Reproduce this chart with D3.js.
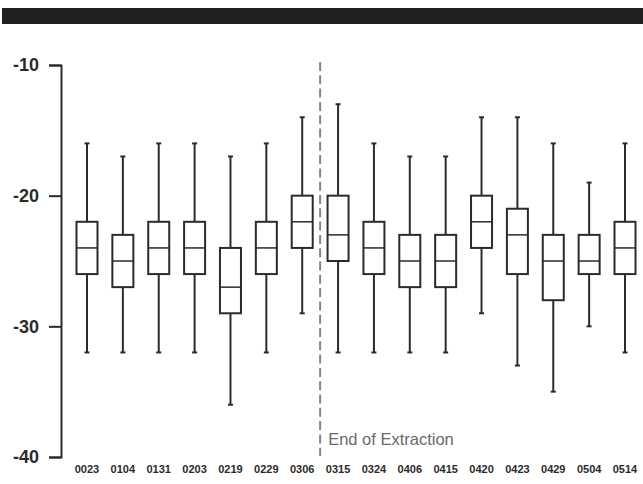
<!DOCTYPE html>
<html>
<head>
<meta charset="utf-8">
<script src="https://cdn.jsdelivr.net/npm/d3@7"></script>
<style>
  body { margin: 0; background: #fff; }
  svg { display: block; font-family: "Liberation Sans", Arial, sans-serif; }
</style>
</head>
<body>
<div id="chart"></div>
<script>
// sampling dates (labels on x axis)
var dates = ["0023", "0104", "0131", "0203", "0219", "0229", "0306", "0315",
             "0324", "0406", "0415", "0420", "0423", "0429", "0504", "0514"];

// box plot stats
var whiskerHigh = [-16, -17, -16, -16, -17, -16, -14, -13, -16, -17, -17, -14, -14, -16, -19, -16];
var q3          = [-22, -23, -22, -22, -24, -22, -20, -20, -22, -23, -23, -20, -21, -23, -23, -22];
var medians     = [-24, -25, -24, -24, -27, -24, -22, -23, -24, -25, -25, -22, -23, -25, -25, -24];
var q1          = [-26, -27, -26, -26, -29, -26, -24, -25, -26, -27, -27, -24, -26, -28, -26, -26];
var whiskerLow  = [-32, -32, -32, -32, -36, -32, -29, -32, -32, -32, -32, -29, -33, -35, -30, -32];

var yTicks = [-40, -30, -20, -10];
var markerLabel = "End of Extraction";

var W = 643, H = 484;
var ink = "#2b2b2b";

var svg = d3.select("#chart").append("svg")
    .attr("width", W)
    .attr("height", H);

// dark banner along the top
svg.append("rect")
    .attr("x", 2).attr("y", 8)
    .attr("width", W - 2).attr("height", 16)
    .attr("fill", "#231f20");

var boxes = dates.map(function(d, i) {
    return { date: d, hi: whiskerHigh[i], q3: q3[i], med: medians[i], q1: q1[i], lo: whiskerLow[i] };
});

var x = d3.scalePoint()
    .domain(dates)
    .range([87, 625]);

var y = d3.scaleLinear()
    .domain([-40, -10])
    .range([457, 65]);

var boxW = 21, capW = 5;

// y axis, plain hyphen for the minus sign
var yAxis = svg.append("g")
    .attr("transform", "translate(61,0)")
    .call(d3.axisLeft(y).tickValues(yTicks).tickSize(12).tickPadding(10)
        .tickFormat(function(d) { return String(d); }));
yAxis.selectAll("path, line").attr("stroke", ink).attr("stroke-width", 2);
yAxis.selectAll("text")
    .attr("fill", ink)
    .attr("font-size", "18px")
    .attr("font-weight", "bold")
    .attr("font-family", "Liberation Sans, Arial, sans-serif");

// x labels (no axis line)
svg.append("g").selectAll("text")
    .data(dates)
    .enter().append("text")
    .attr("x", function(d) { return x(d); })
    .attr("y", 473)
    .attr("text-anchor", "middle")
    .attr("font-size", "11px")
    .attr("font-weight", "bold")
    .attr("fill", ink)
    .text(function(d) { return d; });

// end of extraction marker, halfway between 0306 and 0315
var markX = (x("0306") + x("0315")) / 2;
svg.append("line")
    .attr("x1", markX).attr("x2", markX)
    .attr("y1", 62).attr("y2", 456)
    .attr("stroke", "#858585")
    .attr("stroke-width", 2)
    .attr("stroke-dasharray", "9,4.3");
svg.append("text")
    .attr("x", markX + 8)
    .attr("y", 445)
    .attr("font-size", "16.5px")
    .attr("fill", "#6a6a6a")
    .text(markerLabel);

// boxes
var g = svg.append("g").selectAll("g")
    .data(boxes)
    .enter().append("g")
    .attr("stroke", ink)
    .attr("stroke-width", 2)
    .attr("fill", "none");

// whiskers
g.append("line")
    .attr("x1", function(d) { return x(d.date); })
    .attr("x2", function(d) { return x(d.date); })
    .attr("y1", function(d) { return y(d.hi); })
    .attr("y2", function(d) { return y(d.q3); });
g.append("line")
    .attr("x1", function(d) { return x(d.date); })
    .attr("x2", function(d) { return x(d.date); })
    .attr("y1", function(d) { return y(d.q1); })
    .attr("y2", function(d) { return y(d.lo); });

// caps
g.append("line")
    .attr("x1", function(d) { return x(d.date) - capW / 2; })
    .attr("x2", function(d) { return x(d.date) + capW / 2; })
    .attr("y1", function(d) { return y(d.hi); })
    .attr("y2", function(d) { return y(d.hi); });
g.append("line")
    .attr("x1", function(d) { return x(d.date) - capW / 2; })
    .attr("x2", function(d) { return x(d.date) + capW / 2; })
    .attr("y1", function(d) { return y(d.lo); })
    .attr("y2", function(d) { return y(d.lo); });

g.append("rect")
    .attr("x", function(d) { return x(d.date) - boxW / 2; })
    .attr("y", function(d) { return y(d.q3); })
    .attr("width", boxW)
    .attr("height", function(d) { return y(d.q1) - y(d.q3); })
    .attr("fill", "#fff");

g.append("line")
    .attr("x1", function(d) { return x(d.date) - boxW / 2; })
    .attr("x2", function(d) { return x(d.date) + boxW / 2; })
    .attr("y1", function(d) { return y(d.med); })
    .attr("y2", function(d) { return y(d.med); })
    .attr("stroke-width", 1.5);
</script>
</body>
</html>
